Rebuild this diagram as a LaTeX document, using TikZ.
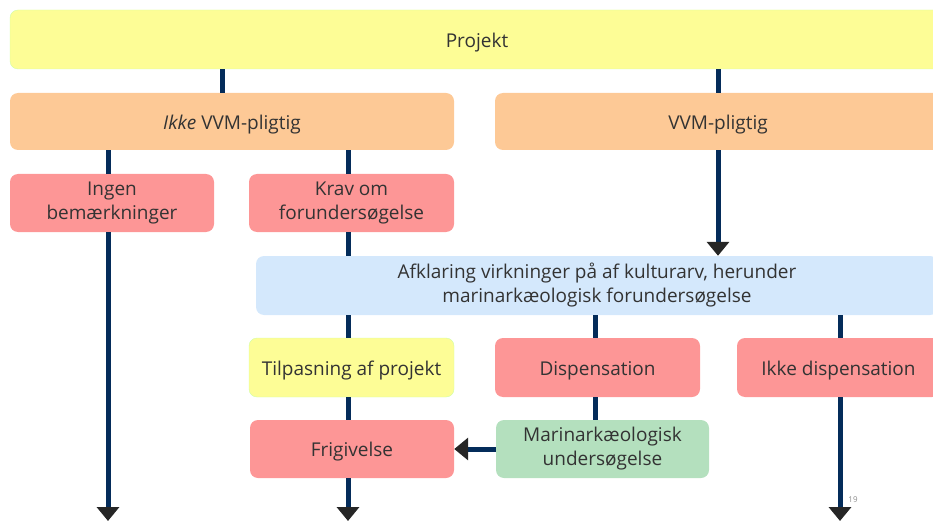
\documentclass[tikz,border=0pt]{standalone}
\usepackage{fontspec}
\setmainfont{Open Sans}
\usetikzlibrary{arrows.meta}
\definecolor{gul}{RGB}{253,253,150}
\definecolor{orange}{RGB}{253,201,150}
\definecolor{roed}{RGB}{253,150,150}
\definecolor{blaa}{RGB}{212,232,252}
\definecolor{groen}{RGB}{180,224,190}
\definecolor{navy}{RGB}{4,44,90}
\tikzset{
  box/.style={rounded corners=8pt, inner sep=0pt, minimum height=58pt, align=center,
    text=black!80, font=\fontsize{19}{24}\selectfont,
    execute at begin node={\rule{0pt}{20pt}}},
  gulbox/.style={box, fill=gul, draw=gul!70!green!60!white, line width=0.4pt},
  orangebox/.style={box, fill=orange},
  roedbox/.style={box, fill=roed},
  blaabox/.style={box, fill=blaa},
  groenbox/.style={box, fill=groen},
  linje/.style={draw=navy, line width=5pt},
  pil/.style={linje, -{Triangle[width=22pt,length=14pt,color=black!85]}}
}
\begin{document}
\begin{tikzpicture}[x=1pt,y=1pt]
  \useasboundingbox (0,0) rectangle (933,-521);

  \node[gulbox, minimum width=934pt, minimum height=59pt] (projekt) at (477,-39.5) {Projekt};

  \node[orangebox, minimum width=444pt, minimum height=57pt] (ikke) at (232,-121.5) {\textit{Ikke} VVM-pligtig};
  \node[orangebox, minimum width=446pt, minimum height=57pt] (vvm) at (718,-121.5) {VVM-pligtig};

  \node[roedbox, minimum width=204pt] (ingen) at (112,-203) {Ingen\\bemærkninger};
  \node[roedbox, minimum width=205pt] (krav) at (351.5,-203) {Krav om\\forundersøgelse};

  \node[blaabox, minimum width=682pt, minimum height=59pt] (afklaring) at (597,-285.5)
    {Afklaring virkninger på af kulturarv, herunder\\marinarkæologisk forundersøgelse};

  \node[gulbox, minimum width=205pt, minimum height=59pt] (tilpas) at (351.5,-367.5) {Tilpasning af projekt};
  \node[roedbox, minimum width=205pt, minimum height=59pt] (disp) at (597.5,-367.5) {Dispensation};
  \node[roedbox, minimum width=203pt, minimum height=59pt] (ikkedisp) at (838.5,-367.5) {Ikke dispensation};

  \node[roedbox, minimum width=204pt] (frig) at (352,-449) {Frigivelse};
  \node[groenbox, minimum width=213pt] (marin) at (602.5,-449) {Marinarkæologisk\\undersøgelse};

  \node[text=black!45, font=\fontsize{8}{9}\selectfont] (side) at (853,-500) {19};

  \coordinate (kA) at (108,0);
  \coordinate (kB) at (222,0);
  \coordinate (kC) at (348,0);
  \coordinate (kD) at (595,0);
  \coordinate (kE) at (718,0);
  \coordinate (kF) at (840,0);
  \coordinate (bund) at (0,-521);

  \draw[linje] (projekt.south -| kB) -- (ikke.north -| kB);
  \draw[linje] (projekt.south -| kE) -- (vvm.north -| kE);
  \draw[linje] (ikke.south -| kA) -- (ingen.north -| kA);
  \draw[linje] (ikke.south -| kC) -- (krav.north -| kC);
  \draw[pil] (ingen.south -| kA) -- (bund -| kA);
  \draw[linje] (krav.south -| kC) -- (afklaring.north -| kC);
  \draw[pil] (vvm.south -| kE) -- (afklaring.north -| kE);
  \draw[linje] (afklaring.south -| kC) -- (tilpas.north -| kC);
  \draw[linje] (afklaring.south -| kD) -- (disp.north -| kD);
  \draw[linje] (afklaring.south -| kF) -- (ikkedisp.north -| kF);
  \draw[linje] (tilpas.south -| kC) -- (frig.north -| kC);
  \draw[linje] (disp.south -| kD) -- (marin.north -| kD);
  \draw[pil] (frig.south -| kC) -- (bund -| kC);
  \draw[pil] (ikkedisp.south -| kF) -- (bund -| kF);
  \draw[pil] (marin.west) -- (frig.east);
\end{tikzpicture}
\end{document}
